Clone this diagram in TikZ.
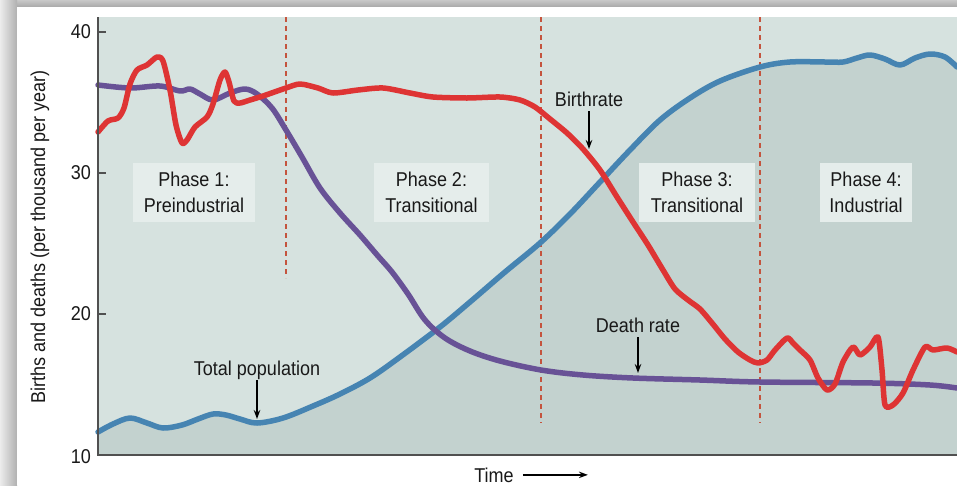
\documentclass[tikz,border=0pt]{standalone}
\usepackage{fontspec}
\setmainfont[FakeStretch=0.9]{Liberation Sans}
\usetikzlibrary{arrows.meta}
\definecolor{redc}{RGB}{222,52,52}
\definecolor{purc}{RGB}{104,82,150}
\definecolor{bluc}{RGB}{70,132,178}
\definecolor{dashc}{RGB}{196,84,62}
\definecolor{bglight}{RGB}{214,226,223}
\definecolor{bgdark}{RGB}{195,210,207}
\definecolor{boxfill}{RGB}{229,237,235}
\definecolor{axisc}{RGB}{80,80,80}
\definecolor{txt}{RGB}{25,25,25}
\definecolor{frameA}{RGB}{236,236,236}
\definecolor{frameB}{RGB}{176,176,176}
\definecolor{frameC}{RGB}{200,200,200}
\definecolor{frameD}{RGB}{168,168,168}
\begin{document}
\begin{tikzpicture}[x=1pt,y=-1pt,
  curve/.style={line width=5.5pt, line cap=round, line join=round},
  phasebox/.style={fill=boxfill, inner sep=0pt, align=center, text=txt,
    font=\fontsize{20}{26}\selectfont},
  lbl/.style={font=\fontsize{20}{24}\selectfont, text=txt, inner sep=0pt},
  ticklbl/.style={font=\fontsize{20}{24}\selectfont, text=txt, inner sep=0pt, anchor=east},
  pointer/.style={-{Stealth[length=9pt,width=6.5pt]}, line width=1.3pt, black},
  divider/.style={draw=dashc, line width=2pt, dash pattern=on 5pt off 4pt},
  axisline/.style={draw=axisc, line width=1.6pt},
  ]
\useasboundingbox (0,0) rectangle (957,485);
% frame
\fill[frameA] (0,0) rectangle (957,485);
\shade[top color=frameC, bottom color=frameD] (0,0) rectangle (957,7);
\shade[left color=frameA, right color=frameB] (0,0) rectangle (17,485);
\fill[white] (17,7) rectangle (957,485);
% plot background
\fill[bglight] (98,17) rectangle (957,455);
\fill[bgdark] plot[smooth, tension=0.55] coordinates {(98,432) (113,424) (130,418) (147,423) (163,428) (182,425) (198,419) (213,414) (226,415) (240,419) (257,423) (283,418) (313,406) (340,394) (370,378) (400,357) (440,327) (470,302) (505,272) (540,243) (570,214) (600,182) (630,150) (660,120) (690,98) (720,81) (760,67) (790,62) (825,62) (843,62) (857,58) (870,55) (885,59) (900,65) (915,58) (930,54) (945,57) (957,67)} -- (957,455) -- (98,455) -- cycle;
% dividers
\draw[divider] (286,17) -- (286,278);
\draw[divider] (541,17) -- (541,423);
\draw[divider] (760,17) -- (760,423);
% phase boxes
\node[phasebox, minimum width=122pt, minimum height=59pt] (p1) at (194,192.5) {Phase 1:\\Preindustrial};
\node[phasebox, minimum width=115pt, minimum height=59pt] (p2) at (431.5,192.5) {Phase 2:\\Transitional};
\node[phasebox, minimum width=116pt, minimum height=59pt] (p3) at (697,192.5) {Phase 3:\\Transitional};
\node[phasebox, minimum width=92pt, minimum height=59pt] (p4) at (866,192.5) {Phase 4:\\Industrial};
% curves
\draw[curve, bluc] plot[smooth, tension=0.55] coordinates {(98,432) (113,424) (130,418) (147,423) (163,428) (182,425) (198,419) (213,414) (226,415) (240,419) (257,423) (283,418) (313,406) (340,394) (370,378) (400,357) (440,327) (470,302) (505,272) (540,243) (570,214) (600,182) (630,150) (660,120) (690,98) (720,81) (760,67) (790,62) (825,62) (843,62) (857,58) (870,55) (885,59) (900,65) (915,58) (930,54) (945,57) (957,67)};
\draw[curve, purc] plot[smooth, tension=0.55] coordinates {(98,85) (130,88) (160,86) (180,91) (190,89) (200,94) (213,100) (230,93) (245,89) (257,94) (272,108) (286,130) (302,157) (320,188) (340,213) (360,235) (378,256) (392,272) (408,294) (425,320) (445,338) (470,351) (500,361) (541,370) (583,375) (633,378) (700,380) (760,382) (873,383) (930,385) (957,388)};
\draw[curve, redc] plot[smooth, tension=0.45] coordinates {(98,132) (108,121) (118,118) (124,108) (130,84) (137,70) (147,65) (157,57) (163,61) (170,90) (176,125) (182,143) (187,140) (195,127) (207,117) (213,104) (220,80) (225,72) (229,82) (234,101) (240,103) (250,100) (263,96) (286,88) (300,84) (318,88) (333,93) (358,90) (383,88) (410,93) (433,97) (467,98) (500,97) (520,100) (535,107) (550,119) (567,133) (583,149) (600,170) (617,197) (633,222) (648,245) (663,270) (675,289) (688,300) (700,309) (712,323) (725,339) (738,352) (750,360) (758,363) (767,360) (775,350) (787,338) (793,343) (800,350) (810,360) (818,378) (827,390) (835,384) (843,362) (853,347) (860,355) (870,347) (878,337) (882,370) (885,405) (893,405) (903,393) (913,370) (925,347) (933,350) (947,348) (957,352)};
% axes
\draw[axisline] (98,17) -- (98,455) -- (957,455);
\foreach \yy in {32,173,314} \draw[axisline] (98,\yy) -- (106,\yy);
\node[ticklbl] (t40) at (91,32) {40};
\node[ticklbl] (t30) at (91,173) {30};
\node[ticklbl] (t20) at (91,314) {20};
\node[ticklbl] (t10) at (91,457) {10};
\node[lbl, rotate=90] (ylab) at (40,237) {Births and deaths (per thousand per year)};
% labels and pointers
\node[lbl, anchor=base] (birth) at (589,106) {Birthrate};
\coordinate (birthpt) at (589,149);
\draw[pointer, shorten <=5pt] (birth) -- (birthpt);
\node[lbl, anchor=base] (death) at (638,332) {Death rate};
\coordinate (deathpt) at (638,373);
\draw[pointer, shorten <=5pt] (death) -- (deathpt);
\node[lbl, anchor=base] (totpop) at (257,375) {Total population};
\coordinate (totpt) at (257,419);
\draw[pointer, shorten <=1pt] (totpop) -- (totpt);
\node[lbl, anchor=base] (time) at (494,482) {Time};
\path (time.east) ++(74,0) coordinate (timeend);
\draw[pointer, shorten <=9pt] (time.east) -- (timeend);
\end{tikzpicture}
\end{document}
